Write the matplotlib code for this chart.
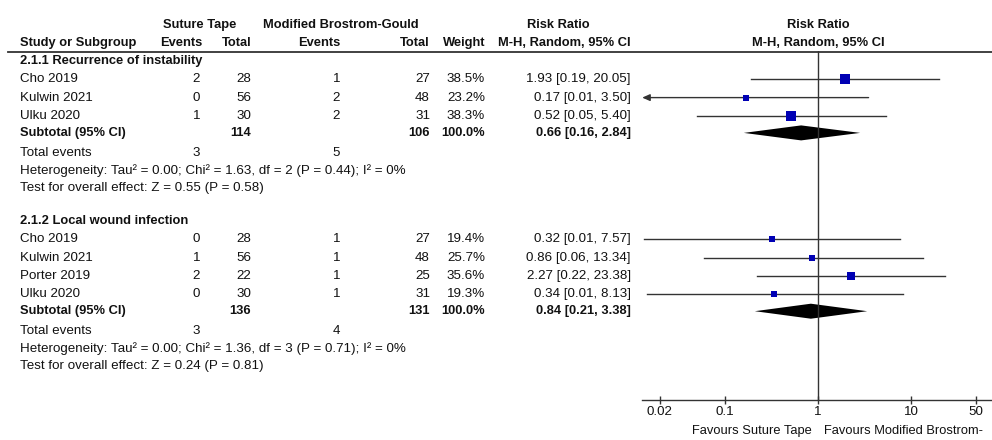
import matplotlib.pyplot as plt
from matplotlib.patches import Polygon

plt.rcParams['font.family'] = ['Liberation Sans', 'DejaVu Sans']

# group 1 - recurrence of instability
g1_title = "2.1.1 Recurrence of instability"
g1_study = ["Cho 2019", "Kulwin 2021", "Ulku 2020"]
g1_st_ev = [2, 0, 1]
g1_st_tot = [28, 56, 30]
g1_mb_ev = [1, 2, 2]
g1_mb_tot = [27, 48, 31]
g1_weight = [38.5, 23.2, 38.3]
g1_rr = [1.93, 0.17, 0.52]
g1_lo = [0.19, 0.0085, 0.05]
g1_hi = [20.05, 3.50, 5.40]
g1_sub = [114, 106, 0.66, 0.16, 2.84]
g1_events = [3, 5]
g1_het = "Heterogeneity: Tau\u00b2 = 0.00; Chi\u00b2 = 1.63, df = 2 (P = 0.44); I\u00b2 = 0%"
g1_test = "Test for overall effect: Z = 0.55 (P = 0.58)"

# group 2 - local wound infection
g2_title = "2.1.2 Local wound infection"
g2_study = ["Cho 2019", "Kulwin 2021", "Porter 2019", "Ulku 2020"]
g2_st_ev = [0, 1, 2, 0]
g2_st_tot = [28, 56, 22, 30]
g2_mb_ev = [1, 1, 1, 1]
g2_mb_tot = [27, 48, 25, 31]
g2_weight = [19.4, 25.7, 35.6, 19.3]
g2_rr = [0.32, 0.86, 2.27, 0.34]
g2_lo = [0.0137, 0.06, 0.22, 0.0146]
g2_hi = [7.57, 13.34, 23.38, 8.13]
g2_sub = [136, 131, 0.84, 0.21, 3.38]
g2_events = [3, 4]
g2_het = "Heterogeneity: Tau\u00b2 = 0.00; Chi\u00b2 = 1.36, df = 3 (P = 0.71); I\u00b2 = 0%"
g2_test = "Test for overall effect: Z = 0.24 (P = 0.81)"

tick_vals = [0.02, 0.1, 1, 10, 50]
tick_labels = ["0.02", "0.1", "1", "10", "50"]

FS = 9.6      # regular text
FSB = 9.3     # bold text
TXT = '#111111'
LINE = '#333333'
BLUE = '#0000b4'

fig = plt.figure(figsize=(9.92, 4.4), dpi=100)
tx = fig.add_axes([0, 0, 1, 1])
tx.set_xlim(0, 992)
tx.set_ylim(440, 0)
tx.axis('off')

# forest panel, y in pixel rows
X0, X1, YA, YT = 642, 992, 400, 51
ax = fig.add_axes([X0 / 992, (440 - YA) / 440, (X1 - X0) / 992, (YA - YT) / 440])
ax.set_xscale('log')
xmin, xmax = 10 ** -1.89, 10 ** 1.87
ax.set_xlim(xmin, xmax)
ax.set_ylim(YA, YT)
ax.patch.set_alpha(0)
for s in ['top', 'right', 'left']:
    ax.spines[s].set_visible(False)
ax.spines['bottom'].set_color(LINE)
ax.spines['bottom'].set_linewidth(1.0)
ax.set_yticks([])
ax.set_xticks(tick_vals)
ax.set_xticklabels(tick_labels)
ax.minorticks_off()
ax.tick_params(axis='x', direction='inout', length=6, width=1, color=LINE,
               labelsize=FS, labelcolor=TXT, pad=1)
ax.axvline(1, color=LINE, lw=1)


def t(x, y, s, ha='left', bold=False, size=None):
    if size is None:
        size = FSB if bold else FS
    tx.text(x, y, s, ha=ha, va='center', fontsize=size, color=TXT,
            fontweight='bold' if bold else 'normal')


# header
t(200, 25, "Suture Tape", 'center', True)
t(341, 25, "Modified Brostrom-Gould", 'center', True)
t(558, 25, "Risk Ratio", 'center', True)
t(818, 25, "Risk Ratio", 'center', True)
t(20, 43, "Study or Subgroup", bold=True)
t(202, 43, "Events", 'right', True)
t(251, 43, "Total", 'right', True)
t(340, 43, "Events", 'right', True)
t(430, 43, "Total", 'right', True)
t(485, 43, "Weight", 'right', True)
t(631, 43, "M-H, Random, 95% CI", 'right', True)
t(818, 43, "M-H, Random, 95% CI", 'center', True)
tx.plot([8, 992], [52, 52], color=LINE, lw=1.3)


def group(y0, title, study, st_ev, st_tot, mb_ev, mb_tot, weight, rr, lo, hi,
          sub, events, het, test):
    t(20, y0, title, bold=True)
    ys = [y0 + 18.3 * (i + 1) for i in range(len(study))]
    for i, y in enumerate(ys):
        t(20, y, study[i])
        t(200, y, str(st_ev[i]), 'right')
        t(251, y, str(st_tot[i]), 'right')
        t(340, y, str(mb_ev[i]), 'right')
        t(430, y, str(mb_tot[i]), 'right')
        t(485, y, f"{weight[i]:.1f}%", 'right')
        t(631, y, f"{rr[i]:.2f} [{lo[i]:.2f}, {hi[i]:.2f}]", 'right')
        if lo[i] < xmin:
            ax.annotate('', xy=(xmin * 1.005, y), xytext=(hi[i], y),
                        arrowprops=dict(arrowstyle='-|>,head_length=0.45,head_width=0.2',
                                        color=LINE, lw=1, shrinkA=0, shrinkB=0))
        else:
            ax.plot([lo[i], hi[i]], [y, y], color=LINE, lw=1)
        # square side grows with the study weight
        side = (0.17 * weight[i] + 2.6) * 0.72
        ax.plot([rr[i]], [y], marker='s', ms=side, color=BLUE, mec=BLUE, mew=0,
                zorder=3)
    ys_sub = ys[-1] + 17
    t(20, ys_sub, "Subtotal (95% CI)", bold=True)
    t(251, ys_sub, str(sub[0]), 'right', True)
    t(430, ys_sub, str(sub[1]), 'right', True)
    t(485, ys_sub, "100.0%", 'right', True)
    t(631, ys_sub, f"{sub[2]:.2f} [{sub[3]:.2f}, {sub[4]:.2f}]", 'right', True)
    ax.add_patch(Polygon([(sub[3], ys_sub), (sub[2], ys_sub - 7.5),
                          (sub[4], ys_sub), (sub[2], ys_sub + 7.5)],
                         closed=True, color='black', lw=0))
    ye = ys_sub + 20
    t(20, ye, "Total events")
    t(200, ye, str(events[0]), 'right')
    t(340, ye, str(events[1]), 'right')
    t(20, ye + 17.5, het)
    t(20, ye + 35, test)


group(61, g1_title, g1_study, g1_st_ev, g1_st_tot, g1_mb_ev, g1_mb_tot, g1_weight,
      g1_rr, g1_lo, g1_hi, g1_sub, g1_events, g1_het, g1_test)
group(221, g2_title, g2_study, g2_st_ev, g2_st_tot, g2_mb_ev, g2_mb_tot, g2_weight,
      g2_rr, g2_lo, g2_hi, g2_sub, g2_events, g2_het, g2_test)

# the reference cuts the right label at the image edge
t(812, 431, "Favours Suture Tape", 'right', size=FSB)
t(824, 431, "Favours Modified Brostrom-", size=FSB)

fig.savefig('out.png', dpi=100)
